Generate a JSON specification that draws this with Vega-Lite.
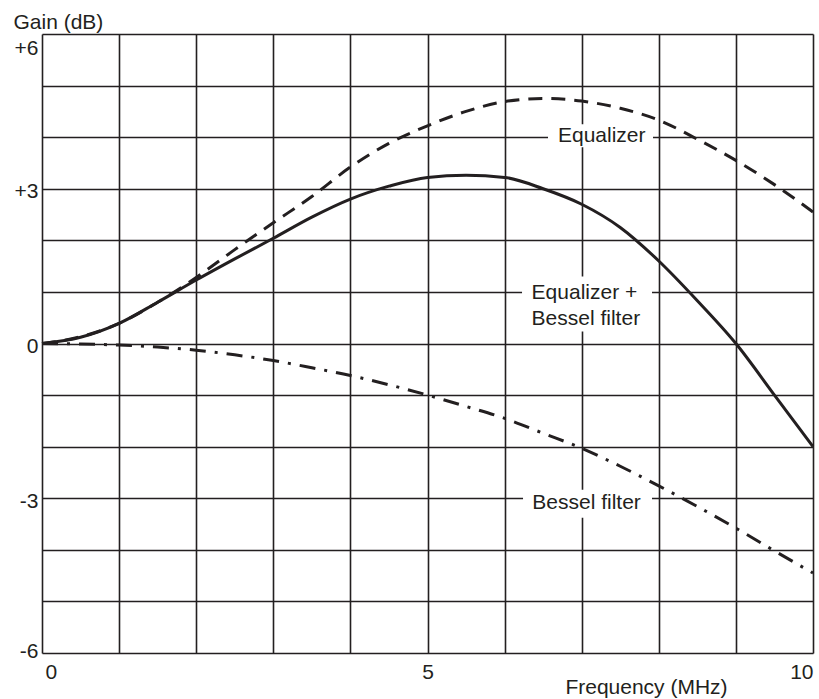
{
  "$schema": "https://vega.github.io/schema/vega-lite/v6.json",
  "autosize": {"type": "none"},
  "width": 771,
  "height": 619,
  "padding": {"left": 42, "top": 34, "right": 6, "bottom": 46},
  "background": "white",
  "config": {
    "view": {"stroke": null},
    "font": "Liberation Sans",
    "axis": {
      "gridColor": "#231f20",
      "gridOpacity": 1,
      "gridWidth": 1.6,
      "domain": false,
      "ticks": false,
      "labelColor": "#231f20",
      "titleColor": "#231f20",
      "labelFont": "Liberation Sans",
      "titleFont": "Liberation Sans",
      "labelFontSize": 21,
      "titleFontSize": 21,
      "titleFontWeight": "normal"
    }
  },
  "datasets": {
    "curves": [
      {"series": "Equalizer", "f": 0, "gain": 0},
      {"series": "Equalizer", "f": 0.5, "gain": 0.13},
      {"series": "Equalizer", "f": 1, "gain": 0.39},
      {"series": "Equalizer", "f": 1.5, "gain": 0.8},
      {"series": "Equalizer", "f": 2, "gain": 1.28},
      {"series": "Equalizer", "f": 2.5, "gain": 1.82},
      {"series": "Equalizer", "f": 3, "gain": 2.34},
      {"series": "Equalizer", "f": 3.5, "gain": 2.85},
      {"series": "Equalizer", "f": 4, "gain": 3.42},
      {"series": "Equalizer", "f": 4.5, "gain": 3.88},
      {"series": "Equalizer", "f": 5, "gain": 4.22},
      {"series": "Equalizer", "f": 5.5, "gain": 4.5},
      {"series": "Equalizer", "f": 6, "gain": 4.69},
      {"series": "Equalizer", "f": 6.5, "gain": 4.75},
      {"series": "Equalizer", "f": 7, "gain": 4.7},
      {"series": "Equalizer", "f": 7.5, "gain": 4.56},
      {"series": "Equalizer", "f": 8, "gain": 4.33},
      {"series": "Equalizer", "f": 8.5, "gain": 3.96},
      {"series": "Equalizer", "f": 9, "gain": 3.55},
      {"series": "Equalizer", "f": 9.5, "gain": 3.08},
      {"series": "Equalizer", "f": 10, "gain": 2.55},
      {"series": "Combined", "f": 0, "gain": 0},
      {"series": "Combined", "f": 0.5, "gain": 0.12},
      {"series": "Combined", "f": 1, "gain": 0.39},
      {"series": "Combined", "f": 1.5, "gain": 0.8},
      {"series": "Combined", "f": 2, "gain": 1.23},
      {"series": "Combined", "f": 2.5, "gain": 1.64},
      {"series": "Combined", "f": 3, "gain": 2.04},
      {"series": "Combined", "f": 3.5, "gain": 2.45},
      {"series": "Combined", "f": 4, "gain": 2.8},
      {"series": "Combined", "f": 4.5, "gain": 3.05},
      {"series": "Combined", "f": 5, "gain": 3.22},
      {"series": "Combined", "f": 5.5, "gain": 3.26},
      {"series": "Combined", "f": 6, "gain": 3.22},
      {"series": "Combined", "f": 6.5, "gain": 3.0},
      {"series": "Combined", "f": 7, "gain": 2.7},
      {"series": "Combined", "f": 7.5, "gain": 2.25},
      {"series": "Combined", "f": 8, "gain": 1.6},
      {"series": "Combined", "f": 8.5, "gain": 0.83},
      {"series": "Combined", "f": 9, "gain": 0},
      {"series": "Combined", "f": 9.5, "gain": -1.0},
      {"series": "Combined", "f": 10, "gain": -2.0},
      {"series": "Bessel", "f": 0, "gain": 0},
      {"series": "Bessel", "f": 0.5, "gain": -0.01},
      {"series": "Bessel", "f": 1, "gain": -0.03},
      {"series": "Bessel", "f": 1.5, "gain": -0.07},
      {"series": "Bessel", "f": 2, "gain": -0.13},
      {"series": "Bessel", "f": 2.5, "gain": -0.22},
      {"series": "Bessel", "f": 3, "gain": -0.33},
      {"series": "Bessel", "f": 3.5, "gain": -0.47},
      {"series": "Bessel", "f": 4, "gain": -0.62},
      {"series": "Bessel", "f": 4.5, "gain": -0.8},
      {"series": "Bessel", "f": 5, "gain": -1.0},
      {"series": "Bessel", "f": 5.5, "gain": -1.22},
      {"series": "Bessel", "f": 6, "gain": -1.45},
      {"series": "Bessel", "f": 6.5, "gain": -1.74},
      {"series": "Bessel", "f": 7, "gain": -2.03},
      {"series": "Bessel", "f": 7.5, "gain": -2.38},
      {"series": "Bessel", "f": 8, "gain": -2.76},
      {"series": "Bessel", "f": 8.5, "gain": -3.16},
      {"series": "Bessel", "f": 9, "gain": -3.58},
      {"series": "Bessel", "f": 9.5, "gain": -4.02},
      {"series": "Bessel", "f": 10, "gain": -4.45}
    ],
    "boxes": [
      {"label": "Equalizer", "f0": 6.563, "f1": 7.925, "g0": 3.806, "g1": 4.25},
      {"label": "Combined", "f0": 6.226, "f1": 7.912, "g0": 0.233, "g1": 1.301},
      {"label": "Bessel", "f0": 6.239, "f1": 7.912, "g0": -3.379, "g1": -2.835}
    ],
    "labels": [
      {"text": ["Equalizer"], "f": 7.26, "gain": 4.03, "align": "center"},
      {"text": ["Equalizer +", "Bessel filter"], "f": 6.35, "gain": 0.98, "align": "left"},
      {"text": ["Bessel filter"], "f": 7.063, "gain": -3.09, "align": "center"}
    ]
  },
  "layer": [
    {
      "data": {"name": "curves"},
      "mark": {"type": "line", "opacity": 0},
      "encoding": {
        "x": {
          "field": "f", "type": "quantitative",
          "scale": {"domain": [0, 10], "nice": false, "zero": false},
          "axis": {
            "values": [0, 1, 2, 3, 4, 5, 6, 7, 8, 9, 10],
            "format": "d",
            "labelExpr": "datum.value % 5 == 0 ? datum.label : ''",
            "labelFlush": true,
            "labelOffset": {"condition": {"test": "datum.value == 0", "value": 3}, "value": 0},
            "labelPadding": 8,
            "title": "Frequency (MHz)",
            "titleX": 604,
            "titleY": 40,
            "titleAlign": "center",
            "titleBaseline": "alphabetic"
          }
        },
        "y": {
          "field": "gain", "type": "quantitative",
          "scale": {"domain": [-6, 6], "nice": false, "zero": false},
          "axis": {
            "values": [-6, -5, -4, -3, -2, -1, 0, 1, 2, 3, 4, 5, 6],
            "labelExpr": "datum.value % 3 == 0 ? (datum.value > 0 ? '+' + datum.value : '' + datum.value) : ''",
            "labelBaseline": {"condition": {"test": "datum.value == 6", "value": "top"}, "value": "middle"},
            "labelOffset": {"condition": {"test": "datum.value == -6", "value": -2}, "value": 3},
            "labelPadding": 4,
            "title": "Gain (dB)",
            "titleAngle": 0,
            "titleX": -29,
            "titleY": -6,
            "titleAlign": "left",
            "titleBaseline": "alphabetic"
          }
        }
      }
    },
    {
      "data": {"name": "boxes"},
      "mark": {"type": "rect", "color": "white"},
      "encoding": {
        "x": {"field": "f0", "type": "quantitative"},
        "x2": {"field": "f1"},
        "y": {"field": "g0", "type": "quantitative"},
        "y2": {"field": "g1"}
      }
    },
    {
      "data": {"name": "curves"},
      "transform": [{"filter": "datum.series == 'Equalizer'"}],
      "mark": {"type": "line", "color": "#231f20", "strokeWidth": 3, "strokeDash": [14, 9], "interpolate": "monotone"},
      "encoding": {
        "x": {"field": "f", "type": "quantitative"},
        "y": {"field": "gain", "type": "quantitative"}
      }
    },
    {
      "data": {"name": "curves"},
      "transform": [{"filter": "datum.series == 'Combined'"}],
      "mark": {"type": "line", "color": "#231f20", "strokeWidth": 3, "interpolate": "monotone"},
      "encoding": {
        "x": {"field": "f", "type": "quantitative"},
        "y": {"field": "gain", "type": "quantitative"}
      }
    },
    {
      "data": {"name": "curves"},
      "transform": [{"filter": "datum.series == 'Bessel'"}],
      "mark": {"type": "line", "color": "#231f20", "strokeWidth": 3, "strokeDash": [16, 9, 3, 9], "interpolate": "monotone"},
      "encoding": {
        "x": {"field": "f", "type": "quantitative"},
        "y": {"field": "gain", "type": "quantitative"}
      }
    },
    {
      "data": {"name": "labels"},
      "transform": [{"filter": "datum.align == 'center'"}],
      "mark": {"type": "text", "color": "#231f20", "fontSize": 21, "baseline": "middle", "align": "center", "lineHeight": 25.6},
      "encoding": {
        "x": {"field": "f", "type": "quantitative"},
        "y": {"field": "gain", "type": "quantitative"},
        "text": {"field": "text"}
      }
    },
    {
      "data": {"name": "labels"},
      "transform": [{"filter": "datum.align == 'left'"}],
      "mark": {"type": "text", "color": "#231f20", "fontSize": 21, "baseline": "middle", "align": "left", "lineHeight": 25.6},
      "encoding": {
        "x": {"field": "f", "type": "quantitative"},
        "y": {"field": "gain", "type": "quantitative"},
        "text": {"field": "text"}
      }
    }
  ]
}
